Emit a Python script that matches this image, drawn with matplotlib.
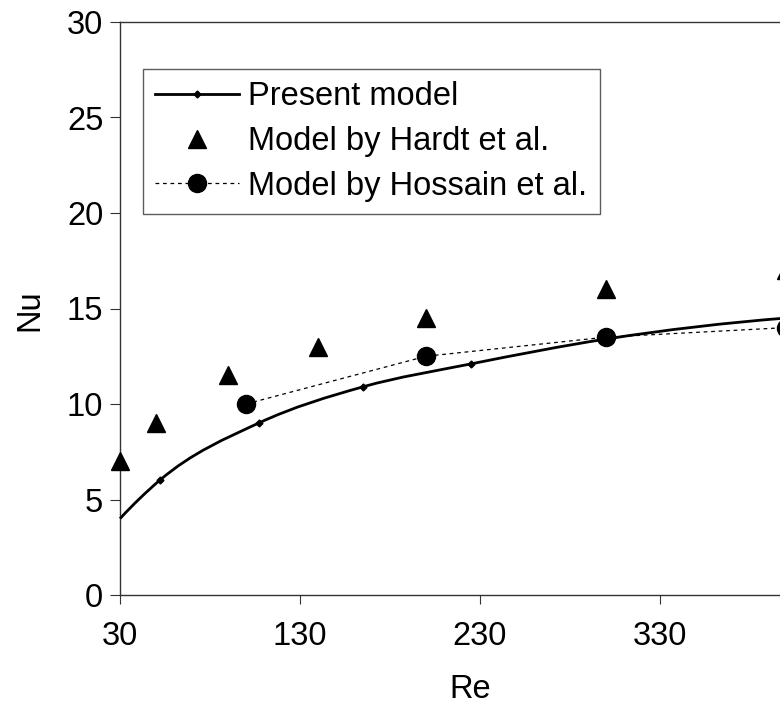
import matplotlib
matplotlib.use("Agg")
import matplotlib.pyplot as plt
from matplotlib.path import Path
from matplotlib.patches import PathPatch
from matplotlib.lines import Line2D
import numpy as np

plt.rcParams['font.family'] = ['Liberation Sans', 'DejaVu Sans']

# ---- data ----
present_re = [30, 52, 107, 165, 225, 300, 400]
present_nu = [4.0, 6.0, 9.0, 10.9, 12.1, 13.4, 14.5]
present_marker_idx = [1, 2, 3, 4, 5, 6]

hardt_re = [30, 50, 90, 140, 200, 300, 400]
hardt_nu = [7.0, 9.0, 11.5, 13.0, 14.5, 16.0, 17.0]

hossain_re = [100, 200, 300, 400]
hossain_nu = [10.0, 12.5, 13.5, 14.0]

x_ticks = [30, 130, 230, 330]
y_ticks = [0, 5, 10, 15, 20, 25, 30]
labels = ["Present model", "Model by Hardt et al.", "Model by Hossain et al."]

FS = 23.5
W, H = 780, 714
fig = plt.figure(figsize=(W / 100, H / 100), dpi=100)
x0, x1 = 30, 430
px_per_unit = 1.8
left_px, top_px, bottom_px = 120, 22, 595
ax = fig.add_axes([left_px / W, (H - bottom_px) / H,
                   (x1 - x0) * px_per_unit / W, (bottom_px - top_px) / H])
ax.set_xlim(x0, x1)
ax.set_ylim(0, 30)
ax.set_xticks(x_ticks)
ax.set_yticks(y_ticks)
for s in ax.spines.values():
    s.set_linewidth(1.0)
    s.set_color('#333333')
ax.tick_params(axis='both', direction='out', labelsize=FS, width=0.8, color='#333333')
ax.tick_params(axis='y', length=7, pad=5)
ax.tick_params(axis='x', length=6.5, pad=12)

# smoothed present model curve: cubic Hermite (as Bezier) with weighted tangents
x = np.asarray(present_re, float)
y = np.asarray(present_nu, float)
h = np.diff(x)
d = np.diff(y) / h
m = np.empty_like(x)
m[1:-1] = (h[:-1] * d[1:] + h[1:] * d[:-1]) / (h[:-1] + h[1:])
m[0] = ((2 * h[0] + h[1]) * d[0] - h[0] * d[1]) / (h[0] + h[1])
m[-1] = ((2 * h[-1] + h[-2]) * d[-1] - h[-1] * d[-2]) / (h[-1] + h[-2])
verts = [(x[0], y[0])]
codes = [Path.MOVETO]
for i in range(len(x) - 1):
    verts += [(x[i] + h[i] / 3, y[i] + m[i] * h[i] / 3),
              (x[i + 1] - h[i] / 3, y[i + 1] - m[i + 1] * h[i] / 3),
              (x[i + 1], y[i + 1])]
    codes += [Path.CURVE4] * 3
ax.add_patch(PathPatch(Path(verts, codes), fill=False, lw=2.0, edgecolor='black',
                       transform=ax.transData, zorder=3, clip_on=False))
ax.plot([present_re[i] for i in present_marker_idx],
        [present_nu[i] for i in present_marker_idx],
        linestyle='none', marker='D', ms=3.5, color='black', zorder=4)

ax.plot(hardt_re, hardt_nu, linestyle='none', marker='^', ms=13, color='black',
        clip_on=False, zorder=5)
ax.plot(hossain_re, hossain_nu, linestyle=(0, (3, 3)), lw=0.9, marker='o', ms=13,
        color='black', zorder=5)

handles = [
    Line2D([], [], color='black', lw=2.0, marker='D', ms=3.5),
    Line2D([], [], color='black', linestyle='none', marker='^', ms=13),
    Line2D([], [], color='black', lw=0.9, linestyle=(0, (3, 3)), marker='o', ms=13),
]
leg = fig.legend(handles, labels, loc='upper left',
                 bbox_to_anchor=(143 / W, 1 - 69 / H), fontsize=FS,
                 frameon=True, fancybox=False, handlelength=2.55,
                 handletextpad=0.3, labelspacing=0.42, borderpad=0.38,
                 borderaxespad=0)
leg.get_frame().set_edgecolor('#333333')
leg.get_frame().set_linewidth(1.0)

fig.text(30 / W, 1 - 310 / H, "Nu", rotation=90, fontsize=FS, ha='center', va='center')
fig.text(470 / W, 1 - 690 / H, "Re", fontsize=FS, ha='center', va='center')

fig.savefig("out.png", dpi=100)
